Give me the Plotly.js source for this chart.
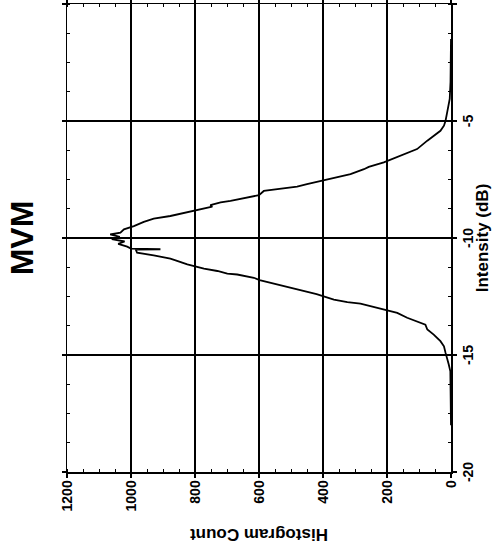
<!DOCTYPE html>
<html>
<head>
<meta charset="utf-8">
<script src="https://cdn.plot.ly/plotly-3.0.1.min.js"></script>
<style>
  html, body { margin: 0; padding: 0; background: #ffffff; overflow: hidden; width: 492px; height: 552px; }
  #chart { position: absolute; left: 0; top: 0; width: 552px; height: 492px;
           transform-origin: 0 0; transform: translate(0px, 552px) rotate(-90deg); }
</style>
</head>
<body>
<div id="chart"></div>
<script>
// Intensity (dB) of each histogram bin
const intensityDb = [
  -18.0, -17.0, -16.4, -16.05, -15.7, -15.41, -15.2, -14.91, -14.63, -14.41,
  -14.13, -13.91, -13.70, -13.62, -13.41, -13.20, -13.10, -12.94, -12.80, -12.74,
  -12.63, -12.40, -12.23, -12.17, -11.98, -11.80, -11.70, -11.60, -11.56, -11.52,
  -11.41, -11.31, -11.23, -11.13, -10.98, -10.88, -10.74, -10.63, -10.50, -10.48,
  -10.45, -10.37, -10.25, -10.15, -10.05, -9.95, -9.85, -9.77, -9.63, -9.49,
  -9.31, -9.17, -9.06, -8.89, -8.80, -8.66, -8.60, -8.48, -8.41, -8.27,
  -8.17, -7.99, -7.89, -7.80, -7.70, -7.56, -7.41, -7.27, -7.06, -6.96,
  -6.77, -6.49, -6.20, -5.84, -5.63, -5.42, -5.20, -4.99, -4.63, -4.34,
  -4.06, -3.34, -2.6, -1.5
];
// Histogram count of each bin
const histogramCount = [
  0, 0, 0, 1, 2, 7, 12, 17, 22, 33,
  54, 74, 80, 95, 137, 168, 199, 241, 283, 324,
  366, 420, 470, 491, 543, 598, 616, 647, 668, 699,
  730, 772, 800, 824, 856, 877, 929, 981, 985, 908,
  1000, 1012, 1040, 1020, 1060, 1035, 1065, 1033, 1022, 991,
  960, 929, 877, 824, 793, 746, 752, 720, 689, 640,
  600, 585, 533, 481, 450, 404, 356, 314, 272, 257,
  210, 158, 106, 74, 54, 33, 22, 17, 12, 7,
  4, 1.5, 0, 0
];
const xTickVals = [-20, -15, -10, -5, 0];
const xTickText = ['-20', '-15', '-10', '-5', '0'];
const yTickVals = [0, 200, 400, 600, 800, 1000, 1200];
const yTickText = ['0', '200', '400', '600', '800', '1000', '1200'];

const FONT = '"Liberation Sans", Arial, Helvetica, sans-serif';

const trace = {
  x: intensityDb,
  y: histogramCount,
  type: 'scatter',
  mode: 'lines',
  line: { color: '#000000', width: 1.8 },
  hoverinfo: 'skip',
  showlegend: false
};

const axisCommon = {
  showline: true, linecolor: '#000000', linewidth: 1.5, mirror: 'ticks',
  showgrid: true, gridcolor: '#000000', gridwidth: 1.5,
  zeroline: false,
  ticks: 'outside', ticklen: 4, tickwidth: 1.5, tickcolor: '#000000',
  tickfont: { family: FONT, size: 14, color: '#000000', weight: 'bold' },
  fixedrange: true
};

const layout = {
  width: 552, height: 492,
  margin: { l: 80, r: 4, t: 67, b: 41, pad: 0 },
  paper_bgcolor: '#ffffff', plot_bgcolor: '#ffffff',
  font: { family: FONT, color: '#000000' },
  title: {
    text: 'MVM',
    font: { family: FONT, size: 32, color: '#000000', weight: 'bold' },
    x: 0.5, xref: 'paper', xanchor: 'center',
    y: 0.955, yref: 'container', yanchor: 'middle'
  },
  xaxis: Object.assign({}, axisCommon, {
    range: [-20, 0],
    tickmode: 'array', tickvals: xTickVals, ticktext: xTickText,
    minor: { dtick: 1.25, tick0: 0, ticks: 'inside', ticklen: 3, tickwidth: 1, tickcolor: '#000000', showgrid: false },
    title: { text: 'Intensity (dB)', font: { family: FONT, size: 17, color: '#000000', weight: 'bold' }, standoff: 6 }
  }),
  yaxis: Object.assign({}, axisCommon, {
    range: [0, 1200],
    tickmode: 'array', tickvals: yTickVals, ticktext: yTickText,
    minor: { dtick: 50, tick0: 0, ticks: 'inside', ticklen: 3, tickwidth: 1, tickcolor: '#000000', showgrid: false },
    title: { text: 'Histogram Count', font: { family: FONT, size: 17, color: '#000000', weight: 'bold' }, standoff: 12 }
  })
};

Plotly.newPlot('chart', [trace], layout, { displayModeBar: false, staticPlot: true });
</script>
</body>
</html>
